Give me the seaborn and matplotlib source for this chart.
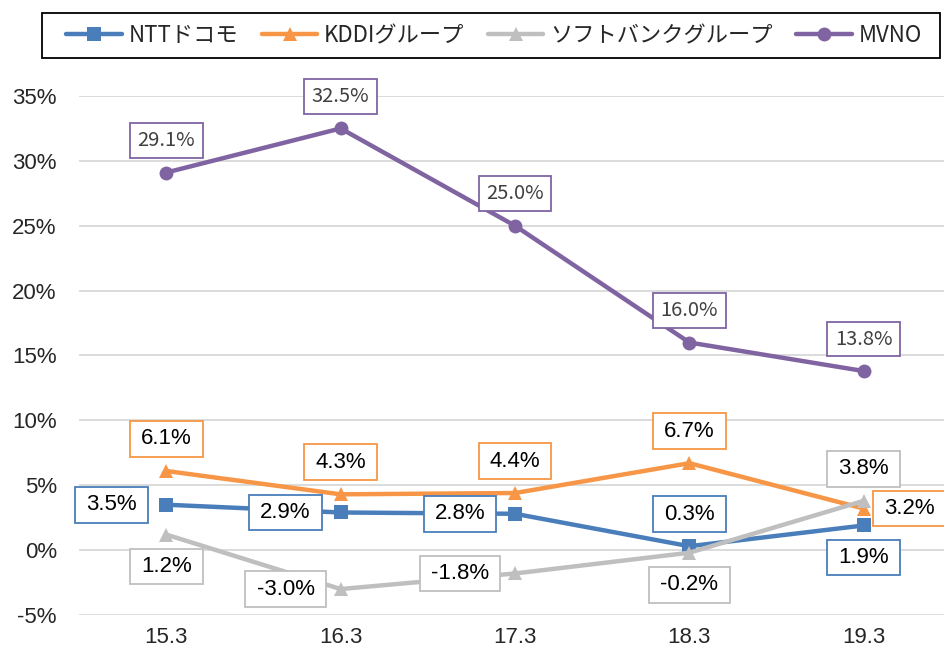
import pandas as pd
import numpy as np
import matplotlib.pyplot as plt
from matplotlib.patches import Rectangle
import seaborn as sns

# Year-on-year subscriber growth by carrier group
months = ['15.3', '16.3', '17.3', '18.3', '19.3']
carriers = ['NTTドコモ', 'KDDIグループ', 'ソフトバンクグループ', 'MVNO']
ntt = [3.5, 2.9, 2.8, 0.3, 1.9]
kddi = [6.1, 4.3, 4.4, 6.7, 3.2]
softbank = [1.2, -3.0, -1.8, -0.2, 3.8]
mvno = [29.1, 32.5, 25.0, 16.0, 13.8]

df = pd.DataFrame({'month': months * 4,
                   'carrier': np.repeat(carriers, len(months)),
                   'growth': ntt + kddi + softbank + mvno})

pal = {'NTTドコモ': '#4a7ebb', 'KDDIグループ': '#f79646',
       'ソフトバンクグループ': '#bfbfbf', 'MVNO': '#8064a2'}
marks = {'NTTドコモ': 's', 'KDDIグループ': '^', 'ソフトバンクグループ': '^', 'MVNO': 'o'}

# where each data label sits relative to its point
place = {'NTTドコモ': ['left', 'left', 'left', 'above', 'below'],
         'KDDIグループ': ['above', 'above', 'above', 'above', 'right'],
         'ソフトバンクグループ': ['below', 'left', 'left', 'below', 'above'],
         'MVNO': ['above'] * 5}
offs = {'left': (-55, 0), 'right': (46, 0), 'above': (0, 32), 'below': (0, -32)}

sns.set_style('white')
plt.rcParams['font.family'] = ['Liberation Sans', 'Noto Sans CJK JP', 'DejaVu Sans']

fig = plt.figure(figsize=(9.44, 6.53), dpi=100)
ax = fig.add_axes([79 / 944, 0.0582, 872 / 944, 0.7948])

sns.lineplot(data=df, x='month', y='growth', hue='carrier', style='carrier',
             hue_order=carriers, style_order=carriers, palette=pal, markers=marks,
             dashes=False, linewidth=3.2, markersize=10, markeredgewidth=0, ax=ax)

for c, vals in zip(carriers, [ntt, kddi, softbank, mvno]):
    for i, v in enumerate(vals):
        if c == 'MVNO':
            txt = dict(fontsize=14.5, color='#404040', family='Noto Sans CJK JP')
            box = dict(boxstyle='square,pad=0.38', mutation_aspect=0.9)
        else:
            txt = dict(fontsize=16, color='black')
            box = dict(boxstyle='square,pad=0.5', mutation_aspect=0.66)
        ax.annotate(f'{v:.1f}%', (i, v), xytext=offs[place[c][i]],
                    textcoords='offset pixels', ha='center', va='center',
                    annotation_clip=False, zorder=10,
                    bbox=dict(fc='white', ec=pal[c], lw=1.3, **box),
                    **txt)

ax.set_xlim(-0.5, 4.5)
ax.set_ylim(-5, 35)
ax.set_yticks(range(-5, 36, 5))
ax.set_yticklabels([f'{t}%' for t in range(-5, 36, 5)])
ax.grid(axis='y', color='#d9d9d9', linewidth=1.3)
ax.tick_params(axis='y', length=0, pad=16, labelsize=16)
ax.tick_params(axis='x', length=0, pad=9, labelsize=16)
ax.set_xlabel('')
ax.set_ylabel('')
sns.despine(ax=ax, left=True, bottom=True)

handles, labels = ax.get_legend_handles_labels()
ax.get_legend().remove()
fig.legend(handles, labels, loc='center', mode='expand', ncol=4,
           bbox_to_anchor=(62 / 944, 1 - 58 / 653, 864 / 944, 45 / 653),
           borderaxespad=0, borderpad=0.2, frameon=False,
           prop={'family': 'Noto Sans CJK JP', 'size': 16},
           handlelength=2.5, handletextpad=0.3, columnspacing=1.0)
# legend frame spans the plot width
fig.patches.append(Rectangle((42 / 944, 1 - 58 / 653), 898 / 944, 45 / 653,
                             transform=fig.transFigure, fill=False,
                             edgecolor='black', linewidth=1.3))

fig.savefig('out.png', dpi=100)
